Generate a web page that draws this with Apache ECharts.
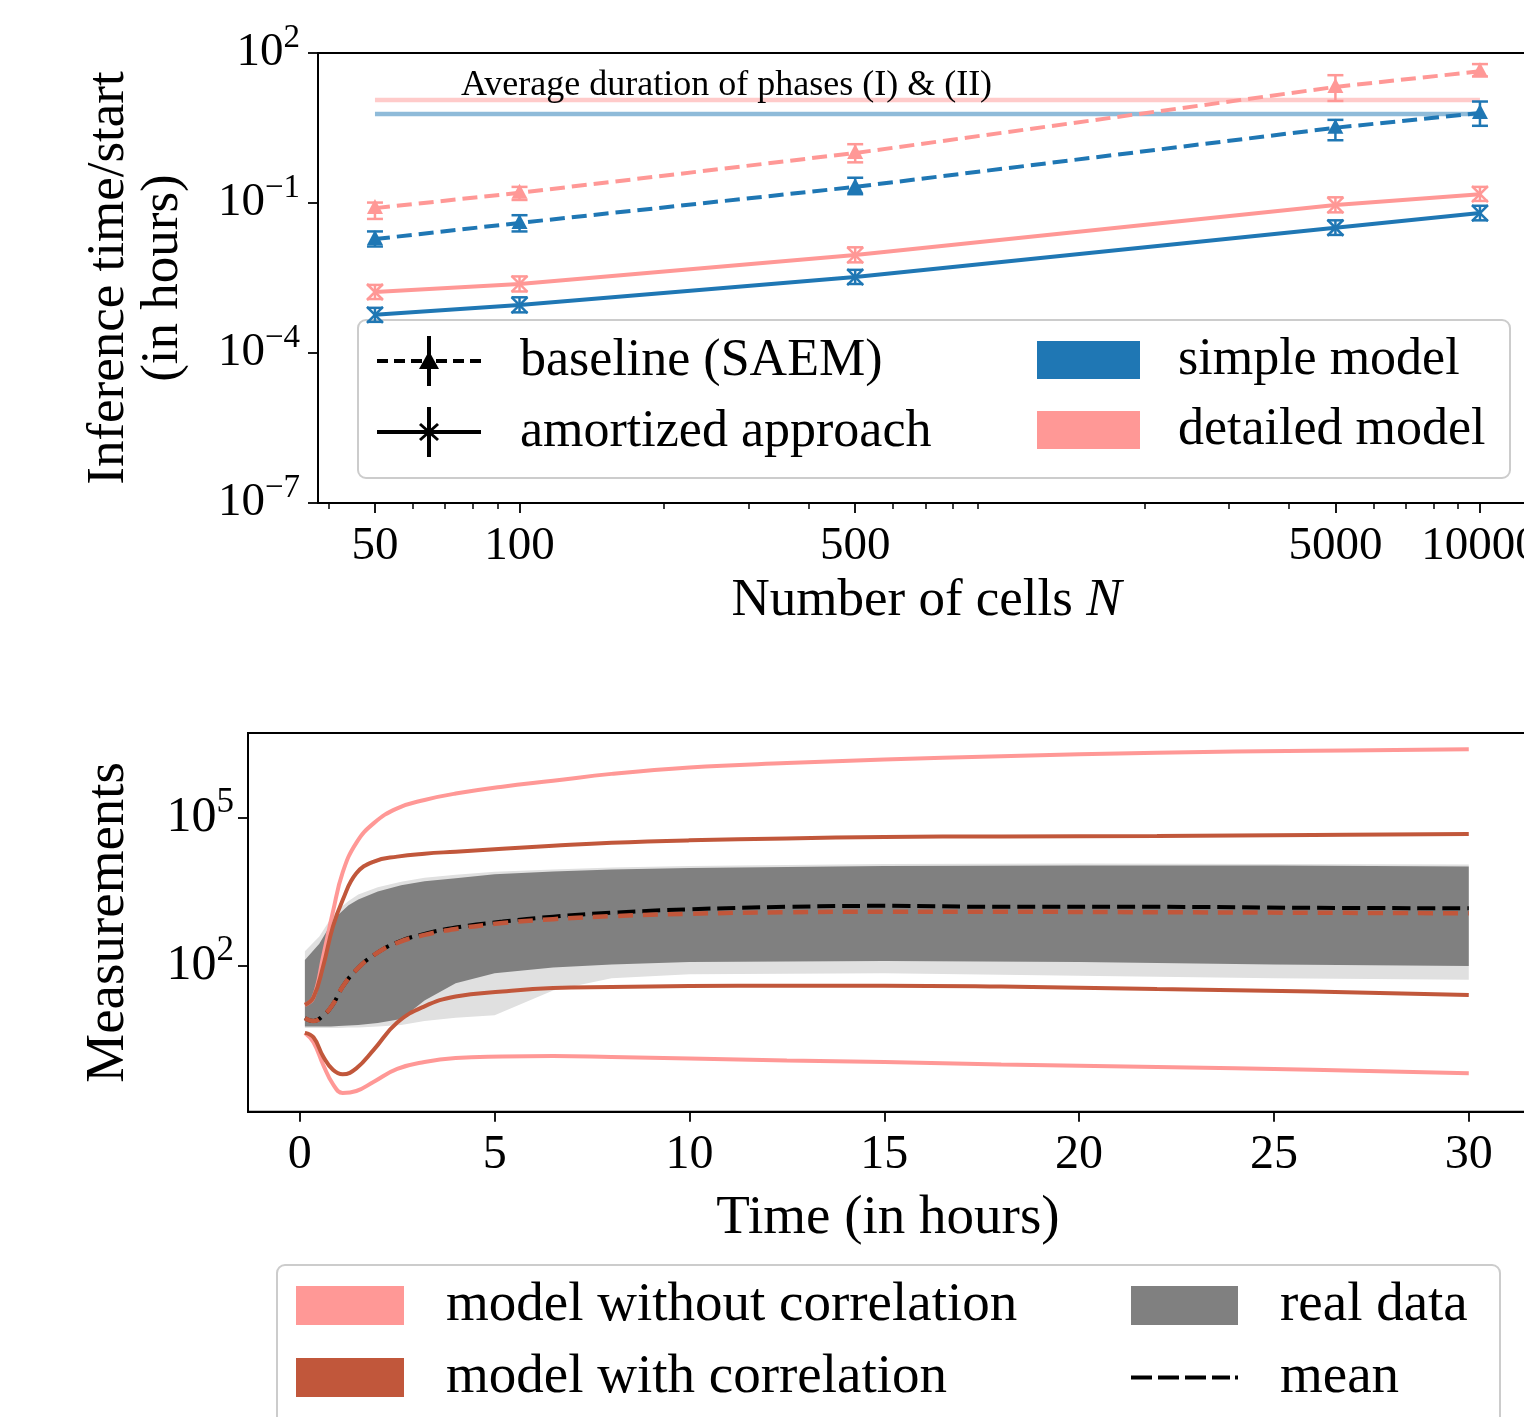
<!DOCTYPE html>
<html><head><meta charset="utf-8">
<script src="https://cdn.jsdelivr.net/npm/echarts@6/dist/echarts.min.js"></script>
<style>html,body{margin:0;padding:0;background:#fff;overflow:hidden;} #c{width:1560px;height:1417px;}</style>
</head><body><div id="c"></div><script>
const FONT = 'Liberation Serif';

// ================= TOP PANEL DATA =================
const cellCounts = [50, 100, 500, 5000, 10000];
const cellTickLabels = [50, 100, 500, 5000, 10000];
const cellMinorTicks = [40, 60, 70, 80, 90, 200, 300, 400, 600, 700, 800, 900, 2000, 3000, 4000, 6000, 7000, 8000, 9000];
const inferenceTicks = [1e-7, 1e-4, 1e-1, 1e2];

const baselineSimple      = [0.019, 0.040, 0.21, 3.2, 6.3];
const baselineSimpleLow   = [0.0135, 0.027, 0.15, 1.8, 3.5];
const baselineSimpleHigh  = [0.027, 0.057, 0.32, 4.6, 10.7];
const baselineDetailed     = [0.079, 0.16, 1.0, 21, 43];
const baselineDetailedLow  = [0.048, 0.115, 0.65, 11, 34];
const baselineDetailedHigh = [0.102, 0.21, 1.5, 36, 60];
const amortSimple      = [0.00058, 0.00091, 0.0033, 0.032, 0.063];
const amortSimpleLow   = [0.00042, 0.00065, 0.0024, 0.023, 0.045];
const amortSimpleHigh  = [0.00080, 0.0013, 0.0046, 0.045, 0.088];
const amortDetailed     = [0.00166, 0.0024, 0.0091, 0.091, 0.15];
const amortDetailedLow  = [0.0012, 0.0017, 0.0065, 0.065, 0.11];
const amortDetailedHigh = [0.0023, 0.0034, 0.013, 0.13, 0.21];

const phaseSpanN = [50, 10000];
const phaseDurationSimple = 6.0;     // hours
const phaseDurationDetailed = 11.5;  // hours

// ================= BOTTOM PANEL DATA (log10 of measurements) =================
const modelTime = [0.13, 0.35, 0.6, 0.85, 1.1, 1.45, 1.9, 2.5, 3.2, 4.0, 5.2, 6.5, 8, 10, 12.5, 15, 18, 22, 26, 30];
const noCorrUpperLog = [1.21, 1.36, 2.2, 3.1, 3.9, 4.5, 4.9, 5.2, 5.37, 5.5, 5.64, 5.76, 5.9, 6.03, 6.12, 6.19, 6.26, 6.33, 6.37, 6.40];
const noCorrLowerLog = [0.64, 0.45, -0.01, -0.4, -0.58, -0.54, -0.35, -0.09, 0.05, 0.13, 0.16, 0.17, 0.15, 0.12, 0.08, 0.05, 0.0, -0.05, -0.11, -0.18];
const corrUpperLog   = [1.21, 1.36, 2.0, 2.8, 3.34, 3.88, 4.12, 4.22, 4.28, 4.32, 4.38, 4.44, 4.5, 4.55, 4.59, 4.62, 4.63, 4.64, 4.66, 4.68];
const corrLowerLog   = [0.64, 0.55, 0.16, -0.11, -0.2, -0.08, 0.3, 0.85, 1.18, 1.38, 1.48, 1.55, 1.57, 1.59, 1.6, 1.6, 1.58, 1.53, 1.48, 1.41];
const corrMedianLog  = [0.94, 0.88, 0.99, 1.22, 1.58, 1.92, 2.22, 2.47, 2.63, 2.75, 2.87, 2.95, 3.01, 3.06, 3.09, 3.1, 3.1, 3.09, 3.08, 3.07];
const meanLog        = [0.94, 0.88, 0.99, 1.22, 1.58, 1.92, 2.22, 2.48, 2.65, 2.78, 2.9, 3.0, 3.08, 3.15, 3.2, 3.22, 3.2, 3.2, 3.18, 3.17];

const bandTime       = [0.13, 0.5, 0.8, 1.0, 1.25, 1.5, 2.0, 2.6, 3.2, 4.0, 5.0, 6.5, 8, 10, 15, 20, 25, 30];
const denseUpperLog  = [2.12, 2.45, 2.85, 3.05, 3.23, 3.35, 3.51, 3.64, 3.72, 3.78, 3.86, 3.92, 3.96, 3.99, 4.03, 4.04, 4.04, 4.02];
const denseLowerLog  = [0.77, 0.77, 0.77, 0.78, 0.79, 0.8, 0.84, 0.92, 1.3, 1.65, 1.85, 1.97, 2.03, 2.08, 2.1, 2.08, 2.03, 2.0];
const fringeUpperLog = [2.3, 2.6, 2.97, 3.15, 3.32, 3.45, 3.6, 3.71, 3.79, 3.85, 3.91, 3.96, 4.0, 4.03, 4.07, 4.08, 4.07, 4.06];
const fringeLowerLog = [0.74, 0.74, 0.74, 0.74, 0.75, 0.75, 0.77, 0.8, 0.88, 0.95, 1.0, 1.5, 1.75, 1.83, 1.85, 1.8, 1.75, 1.72];

const timeTicks = [0, 5, 10, 15, 20, 25, 30];
const measurementTicks = [1e2, 1e5];

// ================= COLORS =================
const BLUE = '#1f77b4', PINK = '#ff9896', RED = '#c1573b', GREY = '#808080';

// ================= helpers =================
const pow10 = v => Math.pow(10, v);
const zip = (xs, ys) => xs.map((x, i) => [x, ys[i]]);
const zipLog = (xs, ls) => xs.map((x, i) => [x, pow10(ls[i])]);
function expLabel(v) {
  const e = Math.round(Math.log10(v));
  return '{b|10}{s|' + (e < 0 ? '\u2212' + (-e) : e) + '}';
}
const expRich = {
  b: {fontFamily: FONT, fontSize: 47, lineHeight: 62, color: '#000'},
  s: {fontFamily: FONT, fontSize: 33, lineHeight: 33, verticalAlign: 'top', color: '#000'}
};
const expRichBig = {
  b: {fontFamily: FONT, fontSize: 50, lineHeight: 66, color: '#000'},
  s: {fontFamily: FONT, fontSize: 35, lineHeight: 35, verticalAlign: 'top', color: '#000'}
};

function errRender(color, marker) {
  return function (params, api) {
    const x = api.value(0), c = api.value(1), lo = api.value(2), hi = api.value(3);
    const pc = api.coord([x, c]), pl = api.coord([x, lo]), ph = api.coord([x, hi]);
    const lw = 2.5, cap = 8;
    const st = {stroke: color, lineWidth: lw};
    const ch = [
      {type: 'line', shape: {x1: pc[0], y1: pl[1], x2: pc[0], y2: ph[1]}, style: st},
      {type: 'line', shape: {x1: pc[0] - cap, y1: pl[1], x2: pc[0] + cap, y2: pl[1]}, style: st},
      {type: 'line', shape: {x1: pc[0] - cap, y1: ph[1], x2: pc[0] + cap, y2: ph[1]}, style: st}
    ];
    if (marker === 'tri') {
      ch.push({type: 'polygon', shape: {points: [[pc[0], pc[1] - 9], [pc[0] + 8, pc[1] + 6], [pc[0] - 8, pc[1] + 6]]}, style: {fill: color}});
    } else {
      ch.push({type: 'line', shape: {x1: pc[0] - 8, y1: pc[1] - 8, x2: pc[0] + 8, y2: pc[1] + 8}, style: st});
      ch.push({type: 'line', shape: {x1: pc[0] - 8, y1: pc[1] + 8, x2: pc[0] + 8, y2: pc[1] - 8}, style: st});
    }
    return {type: 'group', children: ch};
  };
}
function errSeries(name, center, low, high, color, marker) {
  return {
    type: 'custom', name: name, xAxisIndex: 0, yAxisIndex: 0, z: 5, silent: true,
    data: cellCounts.map((n, i) => [n, center[i], low[i], high[i]]),
    encode: {x: 0, y: 1},
    renderItem: errRender(color, marker)
  };
}
function topLine(name, vals, color, dashed) {
  return {
    type: 'line', name: name, xAxisIndex: 0, yAxisIndex: 0, z: 4, silent: true,
    data: zip(cellCounts, vals), symbol: 'none',
    lineStyle: {color: color, width: 4, type: dashed ? [15, 7] : 'solid'}
  };
}
function bandSeries(name, upper, lower, color, z) {
  return {
    type: 'custom', name: name, xAxisIndex: 2, yAxisIndex: 2, z: z, silent: true,
    itemStyle: {color: color},
    data: [[bandTime[0], pow10(upper[0])]], encode: {x: 0, y: 1},
    renderItem: function (params, api) {
      const pts = [];
      for (let i = 0; i < bandTime.length; i++) pts.push(api.coord([bandTime[i], pow10(upper[i])]));
      for (let i = bandTime.length - 1; i >= 0; i--) pts.push(api.coord([bandTime[i], pow10(lower[i])]));
      return {type: 'polygon', shape: {points: pts}, style: {fill: color}};
    }
  };
}
function modelLine(name, logs, color, width, dash, z) {
  return {
    type: 'line', name: name, xAxisIndex: 2, yAxisIndex: 2, z: z, silent: true,
    data: zipLog(modelTime, logs), symbol: 'none', smooth: 0.45,
    lineStyle: {color: color, width: width, type: dash || 'solid'},
    itemStyle: {color: color}
  };
}

// Legend icons (shape only; size in legend units)
const ICON_BASE = 'path://M0 23H11V27H0Z M17 23H28V27H17Z M34 23H45V27H34Z M59 23H70V27H59Z M76 23H87V27H76Z M93 23H104V27H93Z M50 0H54V50H50Z M52 15L62 33H42Z';
const ICON_AMORT = 'path://M0 23H104V27H0Z M50 0H54V50H50Z M42 18L44 16L62 32L60 34Z M60 16L62 18L44 34L42 32Z';
const ICON_MEAN = 'path://M0 0H21V4H0Z M27 0H48V4H27Z M54 0H75V4H54Z M81 0H99V4H81Z M104 0H107V4H104Z';

const legendText = (size, pad) => ({fontFamily: FONT, fontSize: size, color: '#000', padding: [0, 0, 0, pad]});

const option = {
  backgroundColor: '#fff',
  animation: false,
  grid: [
    {left: 318, top: 53, width: 1217, height: 450, show: true, borderColor: '#000', borderWidth: 2, backgroundColor: 'transparent'},
    {left: 318, top: 53, width: 1217, height: 450, show: false},
    {left: 248, top: 733, width: 1280, height: 378.7, show: true, borderColor: '#000', borderWidth: 2, backgroundColor: 'transparent'}
  ],
  xAxis: [
    {
      type: 'log', gridIndex: 0, min: 38.05, max: 13020,
      name: 'Number of cells {i|N}', nameLocation: 'middle', nameGap: 72,
      nameTextStyle: {fontFamily: FONT, fontSize: 53, color: '#000', rich: {i: {fontFamily: FONT, fontSize: 53, fontStyle: 'italic', color: '#000'}}},
      axisLine: {show: true, lineStyle: {color: '#000', width: 2}},
      axisTick: {show: true, length: 10, lineStyle: {color: '#000', width: 1.8}, customValues: cellTickLabels},
      axisLabel: {show: true, margin: 20, fontFamily: FONT, fontSize: 47, color: '#000', customValues: cellTickLabels, formatter: v => String(Math.round(v))},
      splitLine: {show: false}, minorTick: {show: false}
    },
    {
      type: 'log', gridIndex: 1, min: 38.05, max: 13020,
      axisLine: {show: false},
      axisTick: {show: true, length: 6, lineStyle: {color: '#000', width: 1.5}, customValues: cellMinorTicks},
      axisLabel: {show: false}, splitLine: {show: false}
    },
    {
      type: 'value', gridIndex: 2, min: -1.33, max: 31.52,
      name: 'Time (in hours)', nameLocation: 'middle', nameGap: 79,
      nameTextStyle: {fontFamily: FONT, fontSize: 55, color: '#000'},
      axisLine: {show: true, onZero: false, lineStyle: {color: '#000', width: 2}},
      axisTick: {show: true, length: 10, lineStyle: {color: '#000', width: 1.8}, customValues: timeTicks},
      axisLabel: {show: true, margin: 20, fontFamily: FONT, fontSize: 48, color: '#000', customValues: timeTicks},
      splitLine: {show: false}
    }
  ],
  yAxis: [
    {
      type: 'log', gridIndex: 0, min: 1e-7, max: 1e2,
      name: 'Inference time/start\n(in hours)', nameLocation: 'middle', nameRotate: 90, nameGap: 128,
      nameTextStyle: {fontFamily: FONT, fontSize: 53, color: '#000', lineHeight: 54},
      axisLine: {show: true, onZero: false, lineStyle: {color: '#000', width: 2}},
      axisTick: {show: true, length: 10, lineStyle: {color: '#000', width: 1.8}, customValues: inferenceTicks},
      axisLabel: {show: true, margin: 18, customValues: inferenceTicks, formatter: expLabel, rich: expRich},
      splitLine: {show: false}
    },
    {type: 'value', gridIndex: 1, show: false, min: 0, max: 1},
    {
      type: 'log', gridIndex: 2, min: pow10(-0.96), max: pow10(6.73),
      name: 'Measurements', nameLocation: 'middle', nameRotate: 90, nameGap: 112,
      nameTextStyle: {fontFamily: FONT, fontSize: 55, color: '#000'},
      axisLine: {show: true, onZero: false, lineStyle: {color: '#000', width: 2}},
      axisTick: {show: true, length: 10, lineStyle: {color: '#000', width: 1.8}, customValues: measurementTicks},
      axisLabel: {show: true, margin: 14, customValues: measurementTicks, formatter: expLabel, rich: expRichBig},
      splitLine: {show: false}
    }
  ],
  legend: [
    {left: 377, top: 335, orient: 'vertical', padding: 0, itemWidth: 104, itemHeight: 50, itemGap: 19,
     selectedMode: false, symbolKeepAspect: true, itemStyle: {color: '#000', borderWidth: 0},
     textStyle: legendText(52, 34),
     data: [{name: 'baseline (SAEM)', icon: ICON_BASE}, {name: 'amortized approach', icon: ICON_AMORT}]},
    {left: 1037, top: 334, orient: 'vertical', padding: 0, itemWidth: 103, itemHeight: 38, itemGap: 18,
     selectedMode: false, itemStyle: {borderWidth: 0},
     textStyle: legendText(52, 33),
     data: [{name: 'simple model', icon: 'rect'}, {name: 'detailed model', icon: 'rect'}]},
    {left: 296, top: 1278, orient: 'vertical', padding: 0, itemWidth: 108, itemHeight: 39, itemGap: 17,
     selectedMode: false, itemStyle: {borderWidth: 0}, height: 139,
     textStyle: legendText(55, 37),
     data: [{name: 'model without correlation', icon: 'rect'}, {name: 'model with correlation', icon: 'rect'}]},
    {left: 1131, top: 1278, orient: 'vertical', padding: 0, itemWidth: 107, itemHeight: 39, itemGap: 17,
     selectedMode: false, symbolKeepAspect: true, itemStyle: {borderWidth: 0}, height: 139,
     textStyle: legendText(55, 37),
     data: [{name: 'real data', icon: 'rect'}, {name: 'mean', icon: ICON_MEAN}]}
  ],
  graphic: [
    {type: 'rect', z: 3, silent: true, shape: {x: 358, y: 320, width: 1152, height: 158, r: 8},
     style: {fill: 'rgba(255,255,255,0.8)', stroke: '#cccccc', lineWidth: 2}},
    {type: 'rect', z: 3, silent: true, shape: {x: 277, y: 1265, width: 1223, height: 200, r: 8},
     style: {fill: 'rgba(255,255,255,0.8)', stroke: '#cccccc', lineWidth: 2}},
    {type: 'text', z: 6, silent: true, x: 461, y: 86,
     style: {text: 'Average duration of phases (I) & (II)', font: '36px "Liberation Serif"', fill: '#000', verticalAlign: 'middle'}}
  ],
  series: [
    // top panel: reference durations
    {type: 'line', name: 'phase detailed', xAxisIndex: 0, yAxisIndex: 0, z: 3, silent: true, symbol: 'none',
     data: phaseSpanN.map(n => [n, phaseDurationDetailed]), lineStyle: {color: '#ffcbca', width: 4.5}},
    {type: 'line', name: 'phase simple', xAxisIndex: 0, yAxisIndex: 0, z: 3, silent: true, symbol: 'none',
     data: phaseSpanN.map(n => [n, phaseDurationSimple]), lineStyle: {color: '#8fbbd9', width: 4.5}},
    topLine('SAEM simple', baselineSimple, BLUE, true),
    topLine('SAEM detailed', baselineDetailed, PINK, true),
    topLine('amortized simple', amortSimple, BLUE, false),
    topLine('amortized detailed', amortDetailed, PINK, false),
    errSeries('SAEM simple err', baselineSimple, baselineSimpleLow, baselineSimpleHigh, BLUE, 'tri'),
    errSeries('SAEM detailed err', baselineDetailed, baselineDetailedLow, baselineDetailedHigh, PINK, 'tri'),
    errSeries('amortized simple err', amortSimple, amortSimpleLow, amortSimpleHigh, BLUE, 'x'),
    errSeries('amortized detailed err', amortDetailed, amortDetailedLow, amortDetailedHigh, PINK, 'x'),
    // legend-only entries for top panel
    {type: 'line', name: 'baseline (SAEM)', xAxisIndex: 0, yAxisIndex: 0, data: [], color: '#000'},
    {type: 'line', name: 'amortized approach', xAxisIndex: 0, yAxisIndex: 0, data: [], color: '#000'},
    {type: 'line', name: 'simple model', xAxisIndex: 0, yAxisIndex: 0, data: [], color: BLUE},
    {type: 'line', name: 'detailed model', xAxisIndex: 0, yAxisIndex: 0, data: [], color: PINK},
    // bottom panel
    bandSeries('real data fringe', fringeUpperLog, fringeLowerLog, '#e0e0e0', 1),
    bandSeries('real data', denseUpperLog, denseLowerLog, GREY, 1.5),
    modelLine('model without correlation', noCorrUpperLog, PINK, 4, null, 3),
    modelLine('model without correlation', noCorrLowerLog, PINK, 4, null, 3),
    modelLine('model with correlation', corrUpperLog, RED, 4, null, 3.2),
    modelLine('model with correlation', corrLowerLog, RED, 4, null, 3.2),
    modelLine('mean', meanLog, '#000', 4, [18, 7], 3.4),
    modelLine('model with correlation', corrMedianLog, RED, 4.5, [15, 10], 3.6)
  ]
};
const chart = echarts.init(document.getElementById('c'), null, {renderer: 'canvas'});
chart.setOption(option);
</script></body></html>
